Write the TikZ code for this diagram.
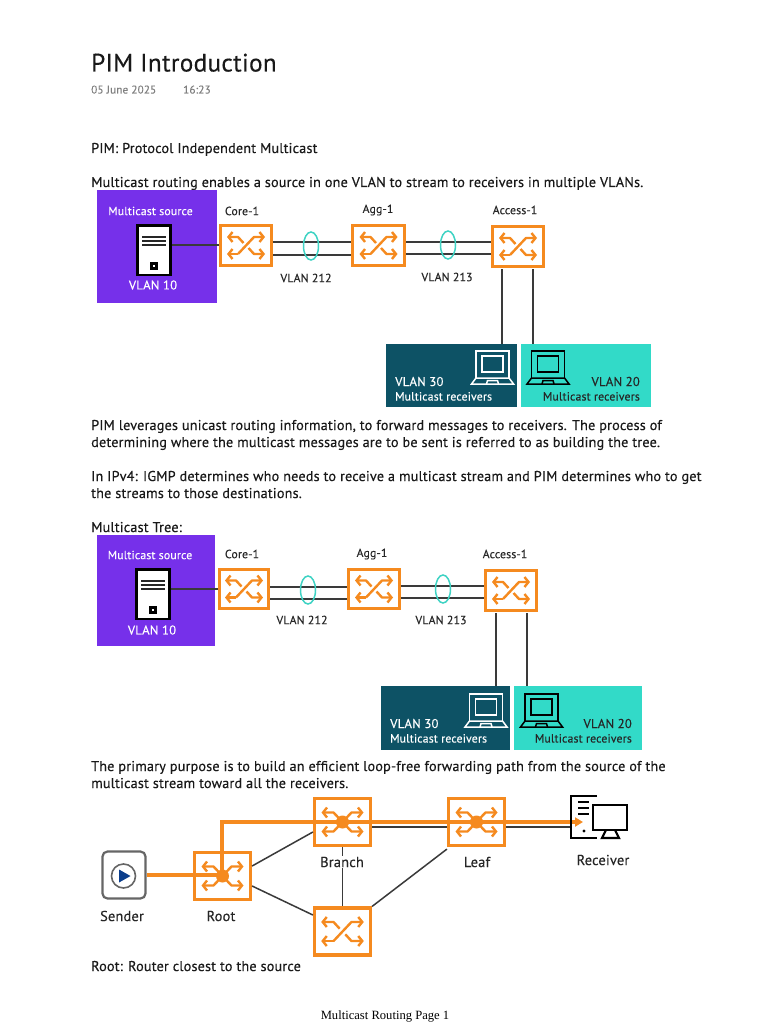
\documentclass[tikz,border=0pt]{standalone}
\usepackage{fontspec}
\setmainfont{PT Sans}[LetterSpace=1.3,FakeBold=0.25]
\newfontfamily\footfont{Liberation Serif}
\usetikzlibrary{arrows.meta}
\definecolor{meshorange}{HTML}{F58A1F}
\definecolor{srcpurple}{HTML}{7630EA}
\definecolor{rcvnavy}{HTML}{0D5265}
\definecolor{rcvteal}{HTML}{32DAC8}
\definecolor{ovalteal}{HTML}{3FD3C4}
\definecolor{linkgray}{HTML}{3A3A3A}
\tikzset{
  para/.style={anchor=base west,inner sep=0pt,font=\fontsize{14.2}{16}\selectfont,text=black!90},
  tag/.style={inner sep=0pt,font=\fontsize{11.8}{13}\selectfont,text=black!85},
  vlantag/.style={inner sep=0pt,font=\fontsize{12.8}{14}\selectfont,text=black!85},
  bigtag/.style={inner sep=0pt,font=\fontsize{14.4}{16}\selectfont,text=black!85},
  swbox/.style={draw=meshorange,line width=3.2pt,fill=white,inner sep=0pt,minimum width=#1},
  link/.style={draw=linkgray,line width=1.5pt},
  vlanbox/.style={inner sep=0pt},
  arrowline/.style={meshorange,line width=2.4pt,line join=round,-{Straight Barb[length=4pt,width=10pt]}},
  pics/crossicon/.style={code={
    \draw[arrowline] (-8,8.5) -- (8,-8.5) -- (19,-8.5);
    \draw[arrowline] (-8,8.5) -- (-19,8.5);
    \draw[arrowline] (-2.5,-2.5) -- (-8,-8.5) -- (-19,-8.5);
    \draw[arrowline] (2.5,2.5) -- (8,8.5) -- (19,8.5);
  }},
  pics/hubicon/.style={code={
    \draw[arrowline] (0,0) -- (-9,-9.5) -- (-21,-9.5);
    \draw[arrowline] (0,0) -- (9,-9.5) -- (21,-9.5);
    \draw[arrowline] (0,0) -- (-9,9.5) -- (-21,9.5);
    \draw[arrowline] (0,0) -- (9,9.5) -- (21,9.5);
    \fill[meshorange] (0,0) circle (6.5);
  }},
  pics/servericon/.style={code={
    \draw[black,line width=2.6pt,fill=white] (-16.5,-24.5) rectangle (16.5,25);
    \draw[black!85,line width=1.6pt] (-12,-13) -- (12,-13) (-12,-9) -- (12,-9) (-12,-5) -- (12,-5);
    \draw[black,line width=2.4pt] (-2.5,13.5) rectangle (2.5,18.5);
  }},
  pics/laptopicon/.style={code={
    \draw[#1,line width=1.5pt] (-16.5,9) -- (-16.5,-18) -- (16.5,-18) -- (16.5,9);
    \draw[#1,line width=1.5pt] (-10.5,-13) rectangle (10.5,3);
    \draw[#1,line width=1.5pt] (-16.5,9) -- (-21,15) -- (21,15) -- (16.5,9) -- cycle;
    \draw[#1,line width=1.5pt] (-6,15) -- (-5,11.5) -- (5,11.5) -- (6,15);
  }}
}
\begin{document}
\begin{tikzpicture}[x=1pt,y=-1pt]
  \useasboundingbox (0,0) rectangle (768,1024);
  \fill[white] (0,0) rectangle (768,1024);

  % page text
  \node[para,font=\fontsize{25.2}{30}\selectfont] (title) at (91,71.5) {PIM Introduction};
  \node[para,font=\fontsize{11.2}{13}\selectfont,text=black!50] (date) at (91,93.5) {05 June 2025};
  \node[para,font=\fontsize{11.2}{13}\selectfont,text=black!50] (time) at (183,93.5) {16:23};
  \node[para] (line1) at (91,153) {PIM: Protocol Independent Multicast};
  \node[para] (line2) at (91,187) {Multicast routing enables a source in one VLAN to stream to receivers in multiple VLANs.};
  \node[para] (line3) at (91,430) {PIM leverages unicast routing information, to forward messages to receivers. The process of};
  \node[para] (line4) at (91,447) {determining where the multicast messages are to be sent is referred to as building the tree.};
  \node[para] (line5) at (91,481) {In IPv4: IGMP determines who needs to receive a multicast stream and PIM determines who to get};
  \node[para] (line6) at (91,498) {the streams to those destinations.};
  \node[para] (line7) at (91,532) {Multicast Tree:};
  \node[para] (line8) at (91,771) {The primary purpose is to build an efficient loop-free forwarding path from the source of the};
  \node[para] (line9) at (91,788) {multicast stream toward all the receivers.};
  \node[para] (line10) at (91,971) {Root: Router closest to the source};
  \node[anchor=base,inner sep=0pt,font=\footfont\fontsize{12.6}{14}\selectfont] (foot) at (385,1019) {Multicast Routing Page 1};

  % first mesh
  \node[vlanbox,fill=srcpurple,minimum width=120pt,minimum height=113pt] (src1) at (157,246.5) {};
  \node[tag,text=white] (src1t) at (150.5,211) {Multicast source};
  \node[vlantag,text=white] (src1v) at (153,285) {VLAN 10};
  \node[swbox=51pt,minimum height=40pt] (core1) at (246,245.5) {};
  \node[swbox=52pt,minimum height=40pt] (agg1) at (378.5,245.5) {};
  \node[swbox=51pt,minimum height=40pt] (acc1) at (518,246.5) {};
  \node[vlanbox,fill=rcvnavy,minimum width=131pt,minimum height=63pt] (rcv30a) at (451.5,375.5) {};
  \node[vlanbox,fill=rcvteal,minimum width=130pt,minimum height=63pt] (rcv20a) at (586,375.5) {};
  \coordinate (srv1) at (154,245);
  \draw[link] (srv1) -- (core1.west |- srv1);
  \pic at (154,250) {servericon};
  \draw[link] (core1.east |- 0,242) -- (agg1.west |- 0,242);
  \draw[link] (core1.east |- 0,255) -- (agg1.west |- 0,255);
  \draw[link] (agg1.east |- 0,242) -- (acc1.west |- 0,242);
  \draw[link] (agg1.east |- 0,254) -- (acc1.west |- 0,254);
  \draw[link] (502,269) -- (rcv30a.north -| 502,0);
  \draw[link] (533,269) -- (rcv20a.north -| 533,0);
  \draw[ovalteal,line width=1.5pt] (311,246) ellipse (7.5 and 14);
  \draw[ovalteal,line width=1.5pt] (448,245) ellipse (7.5 and 14);
  \pic at (core1) {crossicon};
  \pic at (agg1) {crossicon};
  \pic at (acc1) {crossicon};
  \node[tag] (core1t) at (242,211) {Core-1};
  \node[tag] (agg1t) at (378,210) {Agg-1};
  \node[tag] (acc1t) at (515,210) {Access-1};
  \node[tag] (v212a) at (306,278) {VLAN 212};
  \node[tag] (v213a) at (447,277) {VLAN 213};
  \pic at (492.5,369) {laptopicon=white};
  \pic at (548,369) {laptopicon=black};
  \node[vlantag,text=white,anchor=base west] (t30a) at (395,386) {VLAN 30};
  \node[tag,text=white,anchor=base west] (m30a) at (395,400.5) {Multicast receivers};
  \node[vlantag,anchor=base east] (t20a) at (640,386) {VLAN 20};
  \node[tag,anchor=base east] (m20a) at (640,400.5) {Multicast receivers};

  % second mesh
  \node[vlanbox,fill=srcpurple,minimum width=118pt,minimum height=111pt] (src2) at (156,590.5) {};
  \node[tag,text=white] (src2t) at (150,555) {Multicast source};
  \node[vlantag,text=white] (src2v) at (152,630) {VLAN 10};
  \node[swbox=49pt,minimum height=39pt] (core2) at (244,589) {};
  \node[swbox=51pt,minimum height=39pt] (agg2) at (374,589) {};
  \node[swbox=51pt,minimum height=40pt] (acc2) at (511,590.5) {};
  \node[vlanbox,fill=rcvnavy,minimum width=129pt,minimum height=64pt] (rcv30b) at (445.5,718) {};
  \node[vlanbox,fill=rcvteal,minimum width=128pt,minimum height=64pt] (rcv20b) at (578,718) {};
  \coordinate (srv2) at (153,589);
  \draw[link] (srv2) -- (core2.west |- srv2);
  \pic at (153,594) {servericon};
  \draw[link] (core2.east |- 0,587) -- (agg2.west |- 0,587);
  \draw[link] (core2.east |- 0,599) -- (agg2.west |- 0,599);
  \draw[link] (agg2.east |- 0,586) -- (acc2.west |- 0,586);
  \draw[link] (agg2.east |- 0,598) -- (acc2.west |- 0,598);
  \draw[link] (496,613) -- (rcv30b.north -| 496,0);
  \draw[link] (527,613) -- (rcv20b.north -| 527,0);
  \draw[ovalteal,line width=1.5pt] (308,590) ellipse (7.5 and 14);
  \draw[ovalteal,line width=1.5pt] (443,589) ellipse (7.5 and 14);
  \pic at (core2) {crossicon};
  \pic at (agg2) {crossicon};
  \pic at (acc2) {crossicon};
  \node[tag] (core2t) at (242,554) {Core-1};
  \node[tag] (agg2t) at (372,554) {Agg-1};
  \node[tag] (acc2t) at (505,554) {Access-1};
  \node[tag] (v212b) at (302,620) {VLAN 212};
  \node[tag] (v213b) at (441,620) {VLAN 213};
  \pic at (486,712) {laptopicon=white};
  \pic at (541.5,712) {laptopicon=black};
  \node[vlantag,text=white,anchor=base west] (t30b) at (390,728) {VLAN 30};
  \node[tag,text=white,anchor=base west] (m30b) at (390,742.5) {Multicast receivers};
  \node[vlantag,anchor=base east] (t20b) at (632,728) {VLAN 20};
  \node[tag,anchor=base east] (m20b) at (632,742.5) {Multicast receivers};

  % tree
  \node[draw=black!60,line width=2.2pt,rounded corners=5pt,minimum width=43pt,minimum height=47pt,inner sep=0pt] (sender) at (124,875) {};
  \draw[black!60,line width=1.6pt] (123.5,876) circle (12);
  \fill[rcvnavy!75!blue] (119,869.5) -- (130.5,876) -- (119,882.5) -- cycle;
  \node[swbox=56pt,minimum height=47pt] (root) at (222.5,876) {};
  \node[swbox=56pt,minimum height=47pt] (branch) at (342.5,822) {};
  \node[swbox=56pt,minimum height=47pt] (lower) at (342.5,931.5) {};
  \node[swbox=56pt,minimum height=47pt] (leaf) at (476.5,822) {};
  \coordinate (rcvr) at (571,827);
  \coordinate (rcvtip) at (583,822);
  \draw[link] (root.east |- 0,866) -- (branch.west |- 0,832);
  \draw[link] (root.east |- 0,886) -- (lower.west |- 0,915);
  \draw[link,line width=1.8pt] (branch) -- (lower);
  \draw[link] (lower.north east) -- ([yshift=-2pt]leaf.south west);
  \draw[link] (branch.east |- rcvr) -- (leaf.west |- rcvr);
  \draw[link] (leaf.east |- rcvr) -- (rcvr);
  \pic at (branch) {hubicon};
  \pic at (leaf) {hubicon};
  \pic at (root) {hubicon};
  \pic[scale=1.12] at (lower) {crossicon};
  \draw[meshorange,line width=3.3pt,-{Triangle[length=8pt,width=9pt]}] (sender.east |- 0,875) -- (222,875) -- (222,822) -- (rcvtip);
  \node[bigtag,fill=white,inner ysep=1pt,inner xsep=2pt] (brancht) at (342,862) {Branch};
  \node[bigtag] (sendert) at (122,916) {Sender};
  \node[bigtag] (roott) at (221,916) {Root};
  \node[bigtag] (leaft) at (477,862) {Leaf};
  \node[bigtag] (rcvt) at (603,860) {Receiver};
  % receiver icon
  \draw[black,line width=2.2pt] (597,796) -- (571,796) -- (571,838) -- (597,838);
  \draw[black,line width=2.2pt] (578,802) -- (589,802) (578,808) -- (589,808) (578,814) -- (589,814);
  \fill[black] (584,831) circle (1.6);
  \draw[black,line width=2.2pt,fill=white] (593,805) rectangle (627,830);
  \draw[black,line width=2.2pt] (606,830) -- (602,838) -- (619,838) -- (615,830);
\end{tikzpicture}
\end{document}
